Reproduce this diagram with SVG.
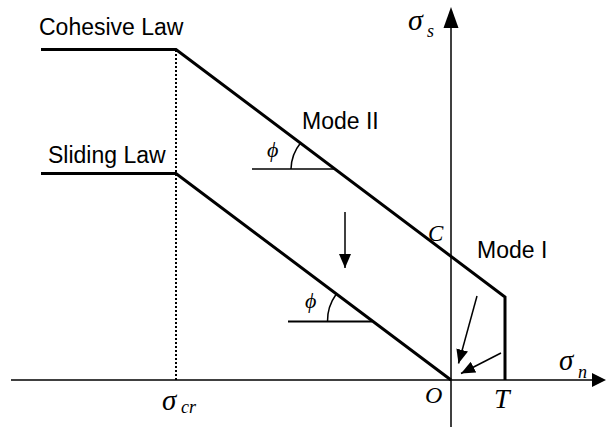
<svg xmlns="http://www.w3.org/2000/svg" width="606" height="437" viewBox="0 0 606 437">
<style>
.lbl{font-family:"Liberation Sans",Arial,sans-serif;font-size:23px;fill:#000}
.mth{font-family:"Liberation Serif","Times New Roman",serif;font-style:italic;fill:#000}
.thick{stroke:#000;stroke-width:3;fill:none}
.thin{stroke:#000;stroke-width:1.5;fill:none}
</style>
<defs>
<marker id="ah" markerWidth="14" markerHeight="12" refX="14" refY="6" orient="auto" markerUnits="userSpaceOnUse">
<path d="M0,0 L14,6 L0,12 Z" fill="#000"/>
</marker>
</defs>
<g id="axes">
<line class="thin" x1="11" y1="380" x2="593" y2="380"/>
<path d="M592,373 L606,380 L592,387 Z" fill="#000"/>
<line class="thin" x1="451" y1="427" x2="451" y2="27"/>
<path d="M443.5,28 L451,7 L458.5,28 Z" fill="#000"/>
<line x1="176" y1="50" x2="176" y2="380" stroke="#000" stroke-width="2" stroke-dasharray="2,2"/>
</g>
<g id="cohesive-law">
<polyline class="thick" points="41,49.5 176,49.5 505,297 505,380"/>
<text class="lbl" x="39" y="35">Cohesive Law</text>
</g>
<g id="sliding-law">
<polyline class="thick" points="41,173.5 176,173.5 451,380"/>
<text class="lbl" x="48" y="163">Sliding Law</text>
</g>
<g id="angle-upper">
<line class="thin" x1="252" y1="169" x2="334" y2="169"/>
<path class="thin" d="M291,169 A43,43 0 0 1 300.5,143"/>
<text class="mth" x="267" y="157" font-size="22">ϕ</text>
</g>
<g id="angle-lower">
<line x1="288" y1="321.5" x2="372" y2="321.5" stroke="#000" stroke-width="2.2"/>
<path class="thin" d="M327.5,321.5 A45,45 0 0 1 336,294.5"/>
<text class="mth" x="305" y="308" font-size="22">ϕ</text>
</g>
<g id="labels">
<text class="lbl" x="302" y="129">Mode II</text>
<text class="lbl" x="477" y="258">Mode I</text>
<text class="mth" x="428" y="241" font-size="23">C</text>
<text class="mth" x="425" y="403" font-size="24">O</text>
<text class="mth" x="494" y="408" font-size="28">T</text>
<text class="mth" x="408" y="30" font-size="30">σ</text>
<text class="mth" x="427" y="37" font-size="18">s</text>
<text class="mth" x="559" y="370" font-size="29">σ</text>
<text class="mth" x="578" y="378" font-size="18">n</text>
<text class="mth" x="162" y="410" font-size="29">σ</text>
<text class="mth" x="181" y="413" font-size="18">cr</text>
</g>
<g id="connectors">
<line class="thin" x1="345" y1="212" x2="345" y2="268" marker-end="url(#ah)"/>
<line class="thin" x1="477" y1="296" x2="458.5" y2="363.5" marker-end="url(#ah)"/>
<line class="thin" x1="501" y1="353" x2="461" y2="373.5" marker-end="url(#ah)"/>
</g>
</svg>
